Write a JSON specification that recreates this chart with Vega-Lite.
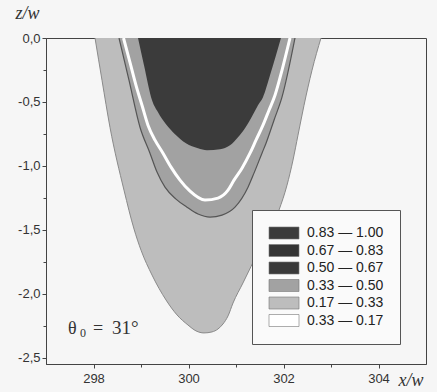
{
  "$schema": "https://vega.github.io/schema/vega-lite/v6.json",
  "width": 380,
  "height": 326,
  "autosize": {"type": "none"},
  "padding": {"left": 46, "top": 38, "right": 11, "bottom": 28},
  "background": "#f6f6f6",
  "config": {
    "view": {"stroke": "#444", "strokeWidth": 1},
    "axis": {
      "labelFont": "Liberation Sans", "labelFontSize": 13, "labelColor": "#333",
      "domainColor": "#444", "tickColor": "#444", "tickSize": 4, "grid": false,
      "titleFont": "Liberation Serif", "titleFontStyle": "italic", "titleFontWeight": "normal",
      "titleFontSize": 18, "titleColor": "#333"
    }
  },
  "datasets": {
    "curves": [
      {"region": "A", "level": "0.17 — 0.33", "x": 298.032, "y": 0},
      {"region": "A", "level": "0.17 — 0.33", "x": 298.179, "y": -0.330},
      {"region": "A", "level": "0.17 — 0.33", "x": 298.347, "y": -0.698},
      {"region": "A", "level": "0.17 — 0.33", "x": 298.642, "y": -1.190},
      {"region": "A", "level": "0.17 — 0.33", "x": 298.853, "y": -1.494},
      {"region": "A", "level": "0.17 — 0.33", "x": 299.0, "y": -1.659},
      {"region": "A", "level": "0.17 — 0.33", "x": 299.232, "y": -1.854},
      {"region": "A", "level": "0.17 — 0.33", "x": 299.526, "y": -2.049},
      {"region": "A", "level": "0.17 — 0.33", "x": 299.758, "y": -2.166},
      {"region": "A", "level": "0.17 — 0.33", "x": 299.989, "y": -2.245},
      {"region": "A", "level": "0.17 — 0.33", "x": 300.158, "y": -2.291},
      {"region": "A", "level": "0.17 — 0.33", "x": 300.326, "y": -2.307},
      {"region": "A", "level": "0.17 — 0.33", "x": 300.495, "y": -2.299},
      {"region": "A", "level": "0.17 — 0.33", "x": 300.621, "y": -2.276},
      {"region": "A", "level": "0.17 — 0.33", "x": 300.726, "y": -2.237},
      {"region": "A", "level": "0.17 — 0.33", "x": 300.832, "y": -2.174},
      {"region": "A", "level": "0.17 — 0.33", "x": 300.937, "y": -2.073},
      {"region": "A", "level": "0.17 — 0.33", "x": 301.147, "y": -1.916},
      {"region": "A", "level": "0.17 — 0.33", "x": 301.484, "y": -1.659},
      {"region": "A", "level": "0.17 — 0.33", "x": 301.905, "y": -1.346},
      {"region": "A", "level": "0.17 — 0.33", "x": 302.074, "y": -1.151},
      {"region": "A", "level": "0.17 — 0.33", "x": 302.2, "y": -0.955},
      {"region": "A", "level": "0.17 — 0.33", "x": 302.305, "y": -0.760},
      {"region": "A", "level": "0.17 — 0.33", "x": 302.432, "y": -0.526},
      {"region": "A", "level": "0.17 — 0.33", "x": 302.6, "y": -0.252},
      {"region": "A", "level": "0.17 — 0.33", "x": 302.789, "y": 0},

      {"region": "B", "level": "0.33 — 0.50", "x": 298.537, "y": 0},
      {"region": "B", "level": "0.33 — 0.50", "x": 298.747, "y": -0.330},
      {"region": "B", "level": "0.33 — 0.50", "x": 298.979, "y": -0.698},
      {"region": "B", "level": "0.33 — 0.50", "x": 299.189, "y": -0.901},
      {"region": "B", "level": "0.33 — 0.50", "x": 299.337, "y": -1.049},
      {"region": "B", "level": "0.33 — 0.50", "x": 299.505, "y": -1.167},
      {"region": "B", "level": "0.33 — 0.50", "x": 299.737, "y": -1.260},
      {"region": "B", "level": "0.33 — 0.50", "x": 299.968, "y": -1.323},
      {"region": "B", "level": "0.33 — 0.50", "x": 300.2, "y": -1.377},
      {"region": "B", "level": "0.33 — 0.50", "x": 300.453, "y": -1.401},
      {"region": "B", "level": "0.33 — 0.50", "x": 300.705, "y": -1.385},
      {"region": "B", "level": "0.33 — 0.50", "x": 300.979, "y": -1.323},
      {"region": "B", "level": "0.33 — 0.50", "x": 301.253, "y": -1.167},
      {"region": "B", "level": "0.33 — 0.50", "x": 301.379, "y": -1.057},
      {"region": "B", "level": "0.33 — 0.50", "x": 301.547, "y": -0.901},
      {"region": "B", "level": "0.33 — 0.50", "x": 301.632, "y": -0.823},
      {"region": "B", "level": "0.33 — 0.50", "x": 301.8, "y": -0.643},
      {"region": "B", "level": "0.33 — 0.50", "x": 301.968, "y": -0.463},
      {"region": "B", "level": "0.33 — 0.50", "x": 302.242, "y": 0},

      {"region": "C", "level": "white", "x": 298.632, "y": 0},
      {"region": "C", "level": "white", "x": 298.768, "y": -0.190},
      {"region": "C", "level": "white", "x": 298.895, "y": -0.370},
      {"region": "C", "level": "white", "x": 299.021, "y": -0.526},
      {"region": "C", "level": "white", "x": 299.147, "y": -0.682},
      {"region": "C", "level": "white", "x": 299.295, "y": -0.799},
      {"region": "C", "level": "white", "x": 299.463, "y": -0.901},
      {"region": "C", "level": "white", "x": 299.632, "y": -1.010},
      {"region": "C", "level": "white", "x": 299.821, "y": -1.112},
      {"region": "C", "level": "white", "x": 300.032, "y": -1.198},
      {"region": "C", "level": "white", "x": 300.347, "y": -1.268},
      {"region": "C", "level": "white", "x": 300.621, "y": -1.252},
      {"region": "C", "level": "white", "x": 300.832, "y": -1.190},
      {"region": "C", "level": "white", "x": 300.958, "y": -1.112},
      {"region": "C", "level": "white", "x": 301.126, "y": -1.018},
      {"region": "C", "level": "white", "x": 301.295, "y": -0.901},
      {"region": "C", "level": "white", "x": 301.421, "y": -0.799},
      {"region": "C", "level": "white", "x": 301.568, "y": -0.682},
      {"region": "C", "level": "white", "x": 301.695, "y": -0.565},
      {"region": "C", "level": "white", "x": 301.821, "y": -0.448},
      {"region": "C", "level": "white", "x": 301.968, "y": -0.253},
      {"region": "C", "level": "white", "x": 302.137, "y": 0},

      {"region": "D", "level": "0.83 — 1.00", "x": 298.937, "y": 0},
      {"region": "D", "level": "0.83 — 1.00", "x": 299.063, "y": -0.213},
      {"region": "D", "level": "0.83 — 1.00", "x": 299.232, "y": -0.487},
      {"region": "D", "level": "0.83 — 1.00", "x": 299.358, "y": -0.580},
      {"region": "D", "level": "0.83 — 1.00", "x": 299.526, "y": -0.674},
      {"region": "D", "level": "0.83 — 1.00", "x": 299.716, "y": -0.752},
      {"region": "D", "level": "0.83 — 1.00", "x": 299.947, "y": -0.823},
      {"region": "D", "level": "0.83 — 1.00", "x": 300.2, "y": -0.862},
      {"region": "D", "level": "0.83 — 1.00", "x": 300.389, "y": -0.878},
      {"region": "D", "level": "0.83 — 1.00", "x": 300.663, "y": -0.870},
      {"region": "D", "level": "0.83 — 1.00", "x": 300.874, "y": -0.839},
      {"region": "D", "level": "0.83 — 1.00", "x": 301.042, "y": -0.776},
      {"region": "D", "level": "0.83 — 1.00", "x": 301.189, "y": -0.706},
      {"region": "D", "level": "0.83 — 1.00", "x": 301.316, "y": -0.628},
      {"region": "D", "level": "0.83 — 1.00", "x": 301.463, "y": -0.526},
      {"region": "D", "level": "0.83 — 1.00", "x": 301.568, "y": -0.463},
      {"region": "D", "level": "0.83 — 1.00", "x": 301.716, "y": -0.291},
      {"region": "D", "level": "0.83 — 1.00", "x": 301.947, "y": 0}
    ],
    "note": [{"x": 297.463, "y": -2.317, "theta": "θ", "sub": "0", "eq": "=", "val": "31°"}],
    "minor": [{"x": 299, "y": -0.25}]
  },
  "layer": [
    {
      "layer": [
        {
          "data": {"name": "curves"},
          "transform": [{"filter": "datum.region === 'A'"}],
          "mark": {"type": "area", "orient": "vertical", "interpolate": "monotone", "clip": true},
          "encoding": {
            "x": {"field": "x", "type": "quantitative", "scale": {"domain": [297, 305], "nice": false, "zero": false},
              "axis": {"values": [298, 300, 302, 304], "title": "x/w", "titleX": 352, "titleY": 21, "titleAlign": "left", "titleBaseline": "alphabetic", "labelPadding": 4, "labelExpr": "format(datum.value, 'd')"}},
            "y": {"field": "y", "type": "quantitative", "stack": null, "scale": {"domain": [-2.55, 0], "nice": false, "zero": false},
              "axis": {"values": [0, -0.5, -1, -1.5, -2, -2.5], "title": "z/w", "titleAngle": 0, "titleX": -31, "titleY": -20, "titleAlign": "left", "titleBaseline": "alphabetic", "labelPadding": 2,
                "labelExpr": "replace(replace(format(datum.value, '.1f'), '.', ','), '\u2212', '-')"}},
            "y2": {"datum": 0},
            "color": {
              "field": "level", "type": "nominal",
              "scale": {
                "domain": ["0.83 — 1.00", "0.67 — 0.83", "0.50 — 0.67", "0.33 — 0.50", "0.17 — 0.33", "0.33 — 0.17"],
                "range": ["#3b3b3b", "#343434", "#393939", "#a2a2a2", "#bdbdbd", "#ffffff"]
              },
              "legend": {
                "title": null, "orient": "none", "legendX": 206, "legendY": 172, "padding": 16,
                "strokeColor": "#555", "fillColor": "#fafafa",
                "symbolType": "M-2.5,-1H2.5V1H-2.5Z", "symbolSize": 144, "symbolOffset": 9,
                "symbolStrokeColor": "#777", "symbolStrokeWidth": 0.6,
                "labelOffset": 16, "labelFont": "Liberation Sans", "labelFontSize": 14, "labelColor": "#222",
                "rowPadding": 1.5
              }
            }
          }
        },
        {
          "data": {"name": "curves"},
          "transform": [{"filter": "datum.region === 'A'"}],
          "mark": {"type": "line", "interpolate": "monotone", "color": "#8a8a8a", "strokeWidth": 1, "clip": true},
          "encoding": {"x": {"field": "x", "type": "quantitative"}, "y": {"field": "y", "type": "quantitative"}}
        },
        {
          "data": {"name": "curves"},
          "transform": [{"filter": "datum.region === 'B'"}],
          "mark": {"type": "area", "orient": "vertical", "interpolate": "monotone", "clip": true},
          "encoding": {
            "x": {"field": "x", "type": "quantitative"},
            "y": {"field": "y", "type": "quantitative", "stack": null},
            "y2": {"datum": 0},
            "color": {"field": "level", "type": "nominal"}
          }
        },
        {
          "data": {"name": "curves"},
          "transform": [{"filter": "datum.region === 'B'"}],
          "mark": {"type": "line", "interpolate": "monotone", "color": "#555", "strokeWidth": 1.2, "clip": true},
          "encoding": {"x": {"field": "x", "type": "quantitative"}, "y": {"field": "y", "type": "quantitative"}}
        },
        {
          "data": {"name": "curves"},
          "transform": [{"filter": "datum.region === 'D'"}],
          "mark": {"type": "area", "orient": "vertical", "interpolate": "monotone", "clip": true},
          "encoding": {
            "x": {"field": "x", "type": "quantitative"},
            "y": {"field": "y", "type": "quantitative", "stack": null},
            "y2": {"datum": 0},
            "color": {"field": "level", "type": "nominal"}
          }
        },
        {
          "data": {"name": "curves"},
          "transform": [{"filter": "datum.region === 'C'"}],
          "mark": {"type": "line", "interpolate": "monotone", "color": "#ffffff", "strokeWidth": 3, "clip": true},
          "encoding": {"x": {"field": "x", "type": "quantitative"}, "y": {"field": "y", "type": "quantitative"}}
        },
        {
          "data": {"name": "note"},
          "mark": {"type": "text", "align": "left", "baseline": "alphabetic", "font": "Liberation Serif", "fontSize": 18, "color": "#333"},
          "encoding": {"x": {"field": "x", "type": "quantitative"}, "y": {"field": "y", "type": "quantitative"}, "text": {"field": "theta"}}
        },
        {
          "data": {"name": "note"},
          "mark": {"type": "text", "align": "left", "baseline": "alphabetic", "font": "Liberation Serif", "fontSize": 12, "color": "#333", "dx": 12, "dy": 3},
          "encoding": {"x": {"field": "x", "type": "quantitative"}, "y": {"field": "y", "type": "quantitative"}, "text": {"field": "sub"}}
        },
        {
          "data": {"name": "note"},
          "mark": {"type": "text", "align": "left", "baseline": "alphabetic", "font": "Liberation Serif", "fontSize": 18, "color": "#333", "dx": 25},
          "encoding": {"x": {"field": "x", "type": "quantitative"}, "y": {"field": "y", "type": "quantitative"}, "text": {"field": "eq"}}
        },
        {
          "data": {"name": "note"},
          "mark": {"type": "text", "align": "left", "baseline": "alphabetic", "font": "Liberation Serif", "fontSize": 19, "color": "#333", "dx": 44},
          "encoding": {"x": {"field": "x", "type": "quantitative"}, "y": {"field": "y", "type": "quantitative"}, "text": {"field": "val"}}
        }
      ]
    },
    {
      "data": {"name": "minor"},
      "mark": {"type": "point", "opacity": 0},
      "encoding": {
        "x": {"field": "x", "type": "quantitative", "scale": {"domain": [297, 305], "nice": false, "zero": false},
          "axis": {"orient": "bottom", "values": [299, 301, 303], "labels": false, "domain": false, "tickSize": 3, "title": null}},
        "y": {"field": "y", "type": "quantitative", "scale": {"domain": [-2.55, 0], "nice": false, "zero": false},
          "axis": {"orient": "left", "values": [-0.25, -0.75, -1.25, -1.75, -2.25], "labels": false, "domain": false, "tickSize": 3, "title": null}}
      }
    }
  ],
  "resolve": {"axis": {"x": "independent", "y": "independent"}}
}
